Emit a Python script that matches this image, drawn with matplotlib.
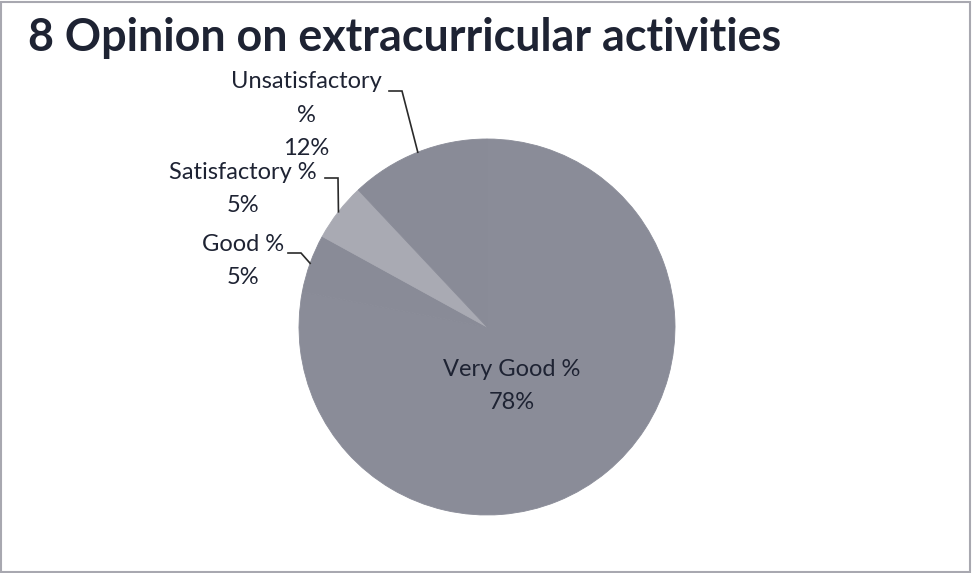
import numpy as np
import matplotlib
matplotlib.use("Agg")
import matplotlib.pyplot as plt
from matplotlib.patches import Rectangle

# datos del gráfico
categorias = ['Very Good %', 'Good %', 'Satisfactory %', 'Unsatisfactory %']
valores = [78, 5, 5, 12]
etiquetas = ['Very Good %\n78%', 'Good %\n5%', 'Satisfactory %\n5%', 'Unsatisfactory\n%\n12%']
colores = ['#8a8c98', '#898b97', '#a9aab3', '#898b97']

texto = '#1e2333'
W, H = 972, 573

fig = plt.figure(figsize=(W / 100, H / 100), dpi=100)
ax = fig.add_axes([0, 0, 1, 1])

# pastel (centro y radio en píxeles, y hacia arriba)
cx, cy, r = 487, H - 327, 188
wedges, _ = ax.pie(valores, colors=colores, startangle=90, counterclock=False,
                   center=(cx, cy), radius=r, frame=True,
                   wedgeprops=dict(linewidth=0.6))
for w in wedges:
    w.set_edgecolor(w.get_facecolor())
ax.set_xlim(0, W)
ax.set_ylim(0, H)
ax.set_aspect('equal')
ax.axis('off')

# título
fig.text(28 / W, 1 - 38 / H, '8 Opinion on extracurricular activities',
         fontsize=32.3, fontweight='bold', family='Lato', color=texto,
         ha='left', va='center')

# posiciones de las etiquetas (centro del bloque) e inicio de la línea guía
pos_etiquetas = [(512, 386), (243, 261), (243, 189), (306, 115)]
inicio_guia = [None, (288, 253), (325, 178), (389, 91)]

for w, lab, (tx, ty), ini in zip(wedges, etiquetas, pos_etiquetas, inicio_guia):
    ax.text(tx, H - ty, lab, ha='center', va='center', fontsize=17,
            family='Lato', color=texto, linespacing=1.72)
    if ini is None:
        continue
    ang = np.deg2rad((w.theta1 + w.theta2) / 2)
    ex, ey = cx + r * np.cos(ang), cy + r * np.sin(ang)
    x0, y0 = ini
    ax.plot([x0, x0 + 13, ex], [H - y0, H - y0, ey], color='#2a2a2a', lw=1.2,
            solid_joinstyle='miter')

# borde del gráfico
fig.patches.append(Rectangle((0.001, 0.002), 0.997, 0.995, transform=fig.transFigure,
                             fill=False, edgecolor='#a8a8b0', lw=1.5))

fig.savefig('out.png', dpi=100)
